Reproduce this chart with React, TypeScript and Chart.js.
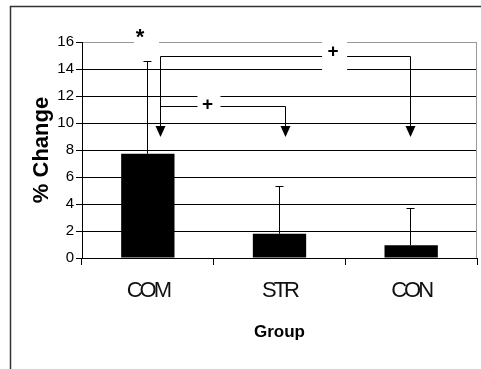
import React, { useEffect, useRef } from "react";
import { Chart, registerables } from "chart.js";

Chart.register(...registerables);

// ---- data ----
const categories = ["COM", "STR", "CON"];
const meanChange = [7.72, 1.79, 0.95];
const errorUpper = [14.6, 5.32, 3.72];
const yTicks = [0, 2, 4, 6, 8, 10, 12, 14, 16];

// significance annotations (x in category-index units, y in % change units)
const bracketStartX = [0.093, 0.093];
const bracketEndX = [1.99, 1.042];
const bracketLevel = [15.0, 11.24];
const bracketLabel = ["+", "+"];
const bracketLabelX = [1.407, 0.453];
const bracketLabelY = [15.3, 11.37];
const arrowTipValue = 8.93;
const starLabel = "*";
const starX = -0.059;
const starY = 16.78;

const FONT = "'Liberation Sans', Arial, sans-serif";

const annotationPlugin = {
  id: "sigAnnotations",
  beforeDraw(chart: any) {
    const ctx = chart.ctx;
    ctx.save();
    ctx.fillStyle = "#fff";
    ctx.fillRect(0, 0, chart.width, chart.height);
    ctx.strokeStyle = "#333";
    ctx.lineWidth = 1.5;
    ctx.beginPath();
    ctx.moveTo(10.5, chart.height);
    ctx.lineTo(10.5, 6.5);
    ctx.lineTo(chart.width, 6.5);
    ctx.stroke();
    ctx.restore();
  },
  beforeDatasetsDraw(chart: any) {
    const { ctx, chartArea } = chart;
    ctx.save();
    ctx.strokeStyle = "#999";
    ctx.lineWidth = 1;
    const x = Math.round(chartArea.right) - 0.5;
    ctx.beginPath();
    ctx.moveTo(x, chartArea.top);
    ctx.lineTo(x, chartArea.bottom);
    ctx.stroke();
    ctx.restore();
  },
  afterDatasetsDraw(chart: any) {
    const ctx = chart.ctx;
    const yS = chart.scales.y;
    const meta = chart.getDatasetMeta(0);
    ctx.save();
    ctx.strokeStyle = "#000";
    ctx.lineWidth = 1;
    meta.data.forEach((bar: any, i: number) => {
      const x = Math.round(bar.x) - 0.5;
      const y0 = yS.getPixelForValue(meanChange[i]);
      const y1 = Math.round(yS.getPixelForValue(errorUpper[i])) + 0.5;
      ctx.beginPath();
      ctx.moveTo(x, y0);
      ctx.lineTo(x, y1);
      ctx.moveTo(x - 4, y1);
      ctx.lineTo(x + 4, y1);
      ctx.stroke();
    });
    ctx.restore();
    // condensed category labels (drawn next, z = 1)
    ctx.letterSpacing = "-3px";
  },
  afterDraw(chart: any) {
    const ctx = chart.ctx;
    ctx.letterSpacing = "0px";
    const xS = chart.scales.x;
    const yS = chart.scales.y;
    const px = (v: number) => Math.round(xS.getPixelForValue(v)) + 0.5;
    const py = (v: number) => Math.round(yS.getPixelForValue(v)) + 0.5;
    const tipY = Math.round(yS.getPixelForValue(arrowTipValue));
    const baseY = tipY - 11;

    ctx.save();
    ctx.strokeStyle = "#000";
    ctx.fillStyle = "#000";
    ctx.lineWidth = 1;
    const arrowXs: number[] = [];
    bracketLevel.forEach((lvl, i) => {
      const x0 = px(bracketStartX[i]);
      const x1 = px(bracketEndX[i]);
      const y = py(lvl);
      ctx.beginPath();
      ctx.moveTo(x0, y);
      ctx.lineTo(x1, y);
      ctx.moveTo(x0, y);
      ctx.lineTo(x0, baseY);
      ctx.moveTo(x1, y);
      ctx.lineTo(x1, baseY);
      ctx.stroke();
      if (!arrowXs.includes(x0)) arrowXs.push(x0);
      if (!arrowXs.includes(x1)) arrowXs.push(x1);
    });
    arrowXs.forEach((x) => {
      ctx.beginPath();
      ctx.moveTo(x - 5, baseY);
      ctx.lineTo(x + 5, baseY);
      ctx.lineTo(x, tipY);
      ctx.closePath();
      ctx.fill();
    });

    // label boxes (white) and labels
    const labels = [
      { t: starLabel, x: starX, y: starY, box: [-6, 19, -8, 18], size: 22, star: true },
      { t: bracketLabel[0], x: bracketLabelX[0], y: bracketLabelY[0], box: [-11, 14, -15, 22], size: 19, star: false },
      { t: bracketLabel[1], x: bracketLabelX[1], y: bracketLabelY[1], box: [-10, 13, -15, 13], size: 19, star: false },
    ];
    labels.forEach((l) => {
      const cx = xS.getPixelForValue(l.x);
      const cy = yS.getPixelForValue(l.y);
      ctx.fillStyle = "#fff";
      ctx.fillRect(cx + l.box[0], cy + l.box[2], l.box[1] - l.box[0], l.box[3] - l.box[2]);
      ctx.fillStyle = "#000";
      ctx.font = `bold ${l.size}px ${FONT}`;
      ctx.textAlign = "center";
      if (l.star) {
        ctx.textBaseline = "alphabetic";
        ctx.fillText(l.t, cx, cy + l.size * 0.58);
      } else {
        ctx.textBaseline = "middle";
        ctx.fillText(l.t, cx, cy);
      }
    });
    ctx.restore();
  },
};

export default function App() {
  const canvasRef = useRef<HTMLCanvasElement | null>(null);

  useEffect(() => {
    if (!canvasRef.current) return;
    Chart.defaults.font.family = FONT;
    const chart = new Chart(canvasRef.current, {
      type: "bar",
      data: {
        labels: categories,
        datasets: [
          {
            data: meanChange,
            backgroundColor: "#000",
            borderWidth: 0,
            barPercentage: 0.405,
            categoryPercentage: 1,
          },
        ],
      },
      options: {
        animation: false,
        responsive: false,
        devicePixelRatio: 1,
        layout: { padding: { top: 42, right: 4, left: 0, bottom: 0 } },
        plugins: {
          legend: { display: false },
          tooltip: { enabled: false },
        },
        scales: {
          x: {
            offset: true,
            grid: {
              offset: true,
              drawOnChartArea: false,
              drawTicks: true,
              tickLength: 7,
              color: "#000",
            },
            border: { color: "#000" },
            ticks: {
              font: { size: 22, family: FONT },
              color: "#111",
              padding: 13,
              maxRotation: 0,
              autoSkip: false,
              z: 1,
            },
            title: {
              display: true,
              text: "Group",
              color: "#000",
              font: { size: 17, weight: "bold", family: FONT },
              padding: { top: 0, bottom: 26 },
            },
            afterFit: (s: any) => {
              s.height = 111;
            },
          },
          y: {
            min: 0,
            max: 16,
            grid: {
              color: (c: any) => (c.tick && c.tick.value === 16 ? "#999" : "#000"),
              tickColor: "#000",
              tickLength: 6,
            },
            border: { color: "#000" },
            ticks: {
              font: { size: 15, family: FONT },
              color: "#000",
              padding: 2,
            },
            afterBuildTicks: (s: any) => {
              s.ticks = yTicks.map((v) => ({ value: v }));
            },
            title: {
              display: true,
              text: "% Change",
              color: "#000",
              font: { size: 22, weight: "bold", family: FONT },
              padding: { top: 29, bottom: 0 },
            },
            afterFit: (s: any) => {
              s.width = 82;
            },
          },
        },
      },
      plugins: [annotationPlugin],
    } as any);
    return () => chart.destroy();
  }, []);

  return (
    <div style={{ position: "fixed", left: 0, top: 0, width: 481, height: 369, background: "#fff" }}>
      <canvas ref={canvasRef} width={481} height={369} style={{ display: "block", width: 481, height: 369 }} />
    </div>
  );
}
